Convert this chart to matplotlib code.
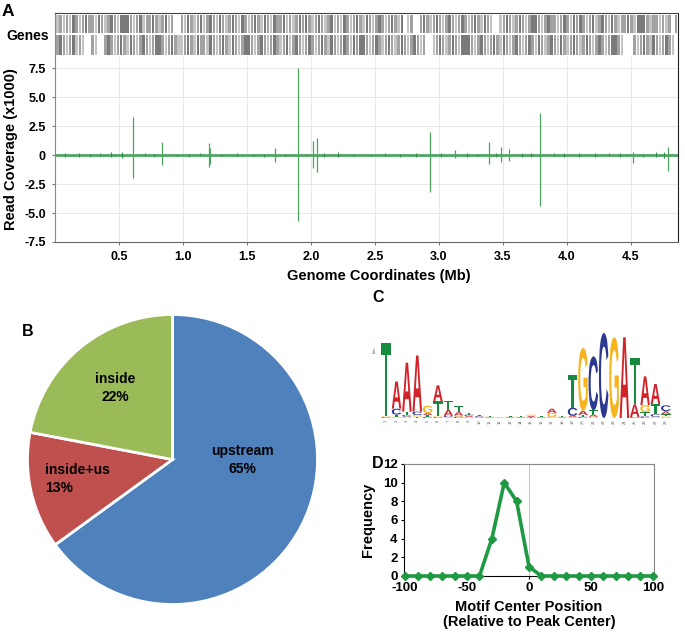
import matplotlib
matplotlib.use('Agg')
import matplotlib.pyplot as plt
from matplotlib.textpath import TextPath
from matplotlib.patches import PathPatch, Rectangle
from matplotlib.font_manager import FontProperties
import matplotlib.transforms as mtransforms

plt.rcParams['font.family'] = ['Liberation Sans', 'DejaVu Sans']
plt.rcParams['font.weight'] = 'bold'

# ---------------- data ----------------
# Panel A: read coverage peaks (position in Mb, coverage x1000)
peak_pos = [0.61, 0.835, 1.20, 1.215, 1.72, 1.896, 2.02, 2.05, 2.93, 3.13, 3.39, 3.49, 3.55, 3.79, 4.52, 4.79]
peak_up = [3.3, 1.1, 1.0, 0.6, 0.6, 7.5, 1.2, 1.5, 2.0, 0.4, 1.1, 0.7, 0.5, 3.6, 0.3, 0.7]
peak_down = [-2.0, -0.9, -1.0, -0.8, -0.6, -5.7, -1.1, -1.5, -3.2, -0.3, -0.8, -0.6, -0.5, -4.4, -0.7, -1.4]
blip_pos = [0.08, 0.19, 0.27, 0.35, 0.44, 0.52, 0.70, 0.77, 0.95, 1.05, 1.13, 1.30, 1.42, 1.55, 1.63,
            1.80, 2.10, 2.21, 2.34, 2.47, 2.58, 2.70, 2.82, 3.02, 3.22, 3.30, 3.45, 3.65, 3.72, 3.90,
            3.98, 4.10, 4.22, 4.33, 4.42, 4.60, 4.70, 4.76]
blip_up = [0.15, 0.2, 0.12, 0.18, 0.25, 0.3, 0.15, 0.12, 0.1, 0.12, 0.15, 0.1, 0.14, 0.1, 0.12,
           0.1, 0.15, 0.25, 0.12, 0.1, 0.15, 0.12, 0.18, 0.2, 0.15, 0.12, 0.15, 0.2, 0.18, 0.15,
           0.2, 0.15, 0.18, 0.15, 0.2, 0.12, 0.22, 0.3]
blip_down = [-0.18, -0.15, -0.2, -0.12, -0.2, -0.22, -0.12, -0.15, -0.1, -0.14, -0.12, -0.12, -0.1, -0.12, -0.15,
             -0.12, -0.18, -0.2, -0.1, -0.12, -0.12, -0.15, -0.14, -0.18, -0.2, -0.1, -0.18, -0.15, -0.2, -0.12,
             -0.18, -0.2, -0.15, -0.12, -0.18, -0.15, -0.2, -0.25]

# Gene track density along the genome (0 = no gene, 1 light, 2 medium, 3 dark), one char per bin
genes_plus = ("121213212322132123213332123122321231200"
              "213212312321321232132123213213223121232"
              "321232123121321232132123212321301200232"
              "123212321232123213210012321232123321232"
              "212321323212312321321223213332122121202")
genes_minus = ("232123121002100232123213212321233212321"
               "123213221321232132123321232123212312321"
               "232123213212321323321232123212321232120"
               "012321232133321232123213212321232132123"
               "213212321232123212332100021232132123210")

# Panel B: peak location categories
pie_labels = ['upstream', 'inside+us', 'inside']
pie_values = [65, 13, 22]

# Panel C: motif logo, information (bits) per position 1..28
motif_A = [0.00, 0.64, 1.15, 1.32, 0.05, 0.38, 0.14, 0.08, 0.03, 0.02, 0.01, 0.005, 0.01, 0.01, 0.03, 0.01,
           0.10, 0.01, 0.03, 0.10, 0.05, 0.00, 0.00, 1.90, 0.30, 0.68, 0.47, 0.07]
motif_C = [0.02, 0.14, 0.04, 0.08, 0.03, 0.02, 0.03, 0.03, 0.03, 0.02, 0.01, 0.005, 0.01, 0.01, 0.01, 0.01,
           0.02, 0.01, 0.19, 0.03, 1.27, 2.00, 0.00, 0.00, 0.02, 0.04, 0.06, 0.14]
motif_G = [0.02, 0.03, 0.03, 0.04, 0.17, 0.02, 0.02, 0.03, 0.02, 0.01, 0.01, 0.005, 0.01, 0.01, 0.03, 0.01,
           0.09, 0.01, 0.02, 1.48, 0.03, 0.00, 1.90, 0.00, 0.00, 0.16, 0.03, 0.04]
motif_T = [1.72, 0.05, 0.08, 0.03, 0.04, 0.35, 0.21, 0.14, 0.04, 0.02, 0.01, 0.005, 0.01, 0.01, 0.01, 0.01,
           0.01, 0.01, 0.78, 0.04, 0.10, 0.00, 0.00, 0.00, 1.10, 0.10, 0.24, 0.05]

# Panel D: motif center position histogram
motif_center = [-100, -90, -80, -70, -60, -50, -40, -30, -20, -10, 0, 10, 20, 30, 40, 50, 60, 70, 80, 90, 100]
frequency = [0, 0, 0, 0, 0, 0, 0, 4, 10, 8, 1, 0, 0, 0, 0, 0, 0, 0, 0, 0, 0]

# ---------------- layout helpers ----------------
W, H = 685, 636
fig = plt.figure(figsize=(W / 100, H / 100), dpi=100)


def rect(x0, y0, x1, y1):
    return [x0 / W, 1 - y1 / H, (x1 - x0) / W, (y1 - y0) / H]


def ftext(x, y, s, **kw):
    fig.text(x / W, 1 - y / H, s, **kw)


GREEN = '#2f9446'
XMAX = 4.87

# ---------------- Panel A ----------------
axg = fig.add_axes(rect(55, 13, 678, 57))
axg.set_xlim(0, XMAX)
axg.set_ylim(0, 1)
axg.set_xticks([])
axg.set_yticks([])
axg.spines['bottom'].set_visible(False)
axg.spines['top'].set_color('#444444')
axg.spines['left'].set_color('#888888')
axg.spines['right'].set_color('#222222')
shade = {'1': '#c4c4c4', '2': '#a2a2a2', '3': '#7a7a7a'}
for (y0, y1, track) in [(0.545, 0.955, genes_plus), (0.045, 0.50, genes_minus)]:
    bw = 4.86 / len(track)
    i = 0
    while i < len(track):
        j = i
        while j + 1 < len(track) and track[j + 1] == track[i]:
            j += 1
        if track[i] != '0':
            x0 = 0.01 + i * bw
            axg.add_patch(Rectangle((x0, y0), (j - i + 1) * bw - 0.006, y1 - y0,
                                    facecolor=shade[track[i]], edgecolor='none'))
        i = j + 1

ax = fig.add_axes(rect(55, 57, 678, 242))
ax.set_xlim(0, XMAX)
ax.set_ylim(-7.5, 8.45)
xt = [0.5, 1.0, 1.5, 2.0, 2.5, 3.0, 3.5, 4.0, 4.5]
yt = [-7.5, -5.0, -2.5, 0, 2.5, 5.0, 7.5]
ax.set_xticks(xt)
ax.set_xticklabels(['%.1f' % v for v in xt], fontsize=9, fontweight='bold')
ax.set_yticks(yt)
ax.set_yticklabels(['-7.5', '-5.0', '-2.5', '0', '2.5', '5.0', '7.5'], fontsize=9, fontweight='bold')
ax.tick_params(axis='both', length=2.5, width=0.8, color='#777777', pad=4)
ax.grid(True, color='#e8e8e8', lw=0.7)
ax.set_axisbelow(True)
ax.spines['top'].set_visible(False)
ax.spines['left'].set_color('#888888')
ax.spines['bottom'].set_color('#666666')
ax.spines['right'].set_color('#222222')
ax.axhline(0, color='#3f9c54', lw=2.0, alpha=0.9)
ax.vlines(blip_pos, blip_down, blip_up, color=GREEN, lw=0.8)
ax.vlines(peak_pos, peak_down, peak_up, color='#4ea35e', lw=0.9)
ax.set_xlabel('Genome Coordinates (Mb)', fontsize=10.5, fontweight='bold')
ax.set_ylabel('Read Coverage (x1000)', fontsize=10.5, fontweight='bold')
ax.yaxis.set_label_coords(-0.06, 0.5)
ax.xaxis.set_label_coords(0.52, -0.145)

ftext(2, 12, 'A', fontsize=12.5, fontweight='bold', va='center', ha='left')
ftext(6, 36, 'Genes', fontsize=10, fontweight='bold', va='center', ha='left')

# ---------------- Panel B ----------------
axp = fig.add_axes(rect(27.5, 314.5, 317.5, 604.5))
axp.pie(pie_values, colors=['#4f81bd', '#c0504d', '#9bbb59'], startangle=90, counterclock=False,
        wedgeprops=dict(edgecolor='white', linewidth=2))
axp.set_xlim(-1, 1)
axp.set_ylim(-1, 1)
axp.set_aspect('equal')
ftext(242, 460, '%s\n%d%%' % (pie_labels[0], pie_values[0]), fontsize=10, fontweight='bold',
      ha='center', va='center', linespacing=1.3)
ftext(45, 479, '%s\n%d%%' % (pie_labels[1], pie_values[1]), fontsize=10, fontweight='bold',
      ha='left', va='center', linespacing=1.3)
ftext(115, 388, '%s\n%d%%' % (pie_labels[2], pie_values[2]), fontsize=10, fontweight='bold',
      ha='center', va='center', linespacing=1.3)
ftext(22, 332, 'B', fontsize=11.5, fontweight='bold', va='center', ha='left')

# ---------------- Panel C ----------------
axl = fig.add_axes(rect(381, 333, 671, 418))
axl.set_xlim(0.5, 28.5)
axl.set_ylim(0, 2)
axl.axis('off')
fp = FontProperties(family='Liberation Sans', weight='bold')
letter_colors = {'A': '#d2232a', 'C': '#2b3990', 'G': '#f7b41c', 'T': '#168a3e'}


def draw_letter(letter, x, y, w, h):
    if h <= 0:
        return
    tp = TextPath((0, 0), letter, size=1, prop=fp)
    bb = tp.get_extents()
    t = mtransforms.Affine2D().translate(-bb.x0, -bb.y0).scale(w / bb.width, h / bb.height).translate(x - w / 2, y)
    axl.add_patch(PathPatch(t.transform_path(tp), facecolor=letter_colors[letter], edgecolor='none',
                            clip_on=False))


for i in range(len(motif_A)):
    stack = sorted([('A', motif_A[i]), ('C', motif_C[i]), ('G', motif_G[i]), ('T', motif_T[i])],
                   key=lambda p: p[1])
    base = 0.0
    for letter, h in stack:
        draw_letter(letter, i + 1, base, 0.92, h)
        base += h
    axl.text(i + 1, -0.04, str(i + 1), rotation=90, fontsize=3, ha='center', va='top', color='#555555',
             fontweight='normal')
axl.text(0.05, 1.6, 'bits', rotation=90, fontsize=3, ha='right', va='center', color='#555555',
         fontweight='normal')
ftext(372, 298, 'C', fontsize=11.5, fontweight='bold', va='center', ha='left')

# ---------------- Panel D ----------------
axd = fig.add_axes(rect(404, 464, 654, 576))
axd.plot(motif_center, frequency, color='#1f9a43', lw=2.6, marker='D', markersize=4.5, clip_on=False,
         zorder=3)
axd.axvline(0, color='#bbbbbb', lw=0.6, zorder=1)
axd.set_xlim(-101, 101)
axd.set_ylim(0, 12)
axd.set_xticks([-100, -50, 0, 50, 100])
axd.set_xticklabels(['-100', '-50', '0', '50', '100'], fontsize=9.5, fontweight='bold')
axd.set_yticks([0, 2, 4, 6, 8, 10, 12])
axd.set_yticklabels(['0', '2', '4', '6', '8', '10', '12'], fontsize=9.5, fontweight='bold')
axd.tick_params(axis='both', length=2.5, width=0.8, pad=2)
for s in ['top', 'right']:
    axd.spines[s].set_color('#888888')
    axd.spines[s].set_linewidth(0.8)
axd.set_xlabel('Motif Center Position\n(Relative to Peak Center)', fontsize=10.5, fontweight='bold',
               linespacing=1.15, labelpad=4)
axd.set_ylabel('Frequency', fontsize=10.5, fontweight='bold', labelpad=6)
ftext(372, 464, 'D', fontsize=11.5, fontweight='bold', va='center', ha='left')

fig.savefig('out.png', dpi=100)
